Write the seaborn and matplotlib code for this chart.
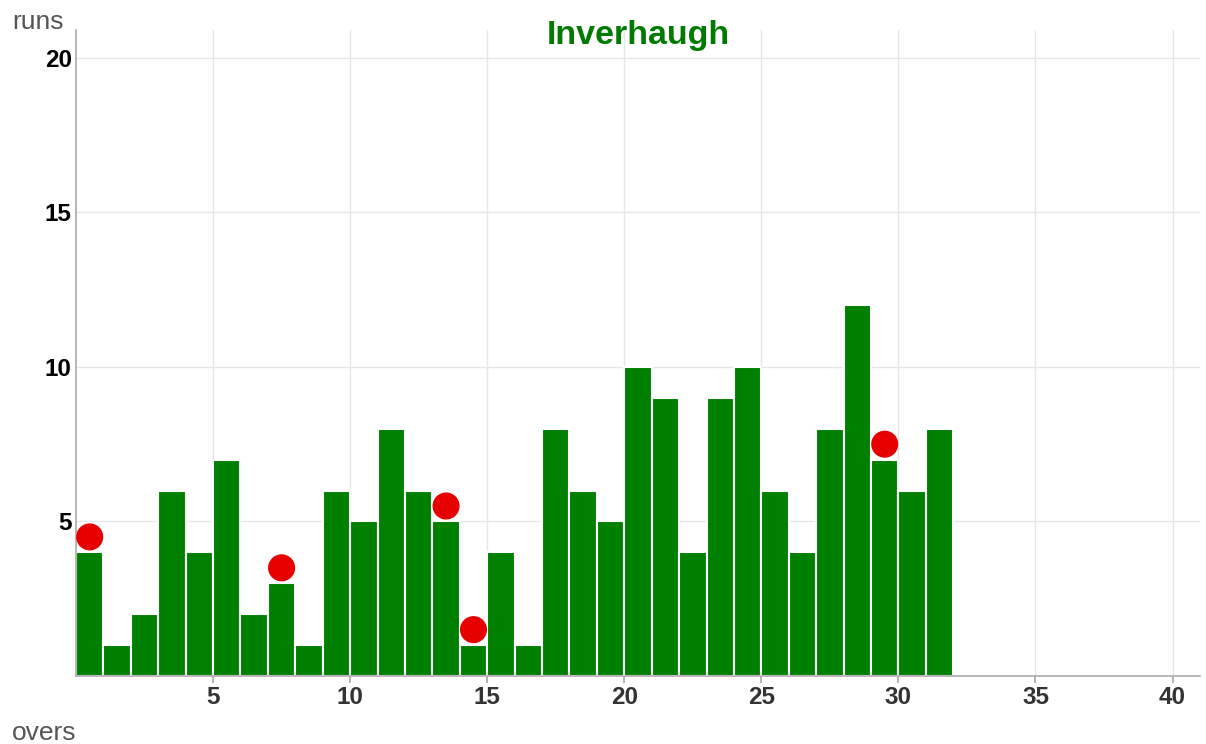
import numpy as np
import pandas as pd
import matplotlib
matplotlib.use("Agg")
import matplotlib.pyplot as plt
import seaborn as sns

# Runs per over for Inverhaugh
overs = list(range(1, 33))
runs = [4, 1, 2, 6, 4, 7, 2, 3, 1, 6, 5, 8, 6, 5, 1, 4,
        1, 8, 6, 5, 10, 9, 4, 9, 10, 6, 4, 8, 12, 7, 6, 8]
# Overs in which a wicket fell
wicket_overs = [1, 8, 14, 15, 30]

TEAM = "Inverhaugh"


def main():
    sns.set_theme(style="white")
    plt.rcParams['font.family'] = ['Liberation Sans', 'DejaVu Sans']

    df = pd.DataFrame({"over": overs, "runs": runs})
    df["mid"] = df["over"] - 0.5
    wk = df[df["over"].isin(wicket_overs)].copy()
    wk["dot"] = wk["runs"] + 0.5

    fig = plt.figure(figsize=(12.06, 7.44), dpi=100)
    ax = fig.add_axes([0.063, 0.0914, 0.932, 0.8683])

    sns.barplot(data=df, x="mid", y="runs", native_scale=True, width=1.0,
                color="#008000", saturation=1, edgecolor="white", linewidth=1.5,
                ax=ax, zorder=2)
    sns.scatterplot(data=wk, x="mid", y="dot", color="#e60000", s=380,
                    edgecolor="none", ax=ax, zorder=3, legend=False)

    ax.set_xlim(0, 41)
    ax.set_ylim(0, 20.9)
    ax.set_xticks(range(5, 45, 5))
    ax.set_yticks(range(5, 25, 5))
    ax.grid(True, color="#e6e6e6", linewidth=1)
    ax.set_axisbelow(True)
    ax.set_xlabel("")
    ax.set_ylabel("")

    for s in ["top", "right"]:
        ax.spines[s].set_visible(False)
    for s in ["left", "bottom"]:
        ax.spines[s].set_color("#aaaaaa")
        ax.spines[s].set_linewidth(1.2)

    ax.tick_params(axis="x", length=5, color="#aaaaaa", pad=2,
                   labelsize=17.5, labelcolor="#333333", bottom=True)
    ax.tick_params(axis="y", length=0, pad=3, labelsize=17.5, labelcolor="black")
    for lbl in ax.get_xticklabels() + ax.get_yticklabels():
        lbl.set_fontweight("bold")

    ax.text(0.5, 0.992, TEAM, transform=ax.transAxes, color="#007a00",
            fontsize=24.5, fontweight="bold", ha="center", va="center")

    fig.text(0.01, 0.971, "runs", color="#555555", fontsize=19, va="center", ha="left")
    fig.text(0.01, 0.015, "overs", color="#555555", fontsize=19, va="center", ha="left")

    fig.savefig("out.png", dpi=100)


if __name__ == "__main__":
    main()
